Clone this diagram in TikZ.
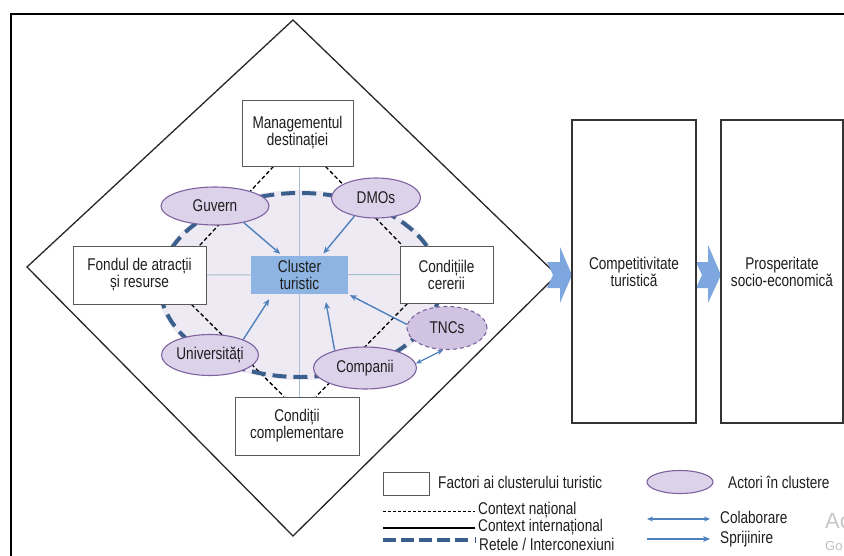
\documentclass[tikz,border=0pt]{standalone}
\usepackage{fontspec}
\setmainfont[FakeStretch=0.8]{Liberation Sans}
\newfontfamily\wmfont{Liberation Sans}
\usetikzlibrary{shapes.geometric,arrows.meta}
\definecolor{ringblue}{HTML}{3A5F8C}
\definecolor{arrblue}{HTML}{4F81BD}
\definecolor{actfill}{HTML}{DCD3EA}
\definecolor{actdraw}{HTML}{7E62A0}
\definecolor{tncfill}{HTML}{D0C4E2}
\definecolor{lav}{HTML}{EDEAF3}
\definecolor{clufill}{HTML}{8DB4E2}
\definecolor{crossc}{HTML}{A9BDD4}
\definecolor{bigarr}{HTML}{7FA7DF}
\definecolor{txt}{HTML}{1E1E1E}
\pgfdeclarelayer{bgg}
\pgfdeclarelayer{bg}
\pgfsetlayers{bgg,bg,main}
\begin{document}
\begin{tikzpicture}[x=1pt,y=-1pt,
  every node/.style={font=\fontsize{17}{17}\selectfont, text=txt},
  factor/.style={draw=black!65, line width=0.9pt, fill=white, align=center, inner sep=0pt},
  actor/.style={ellipse, draw=actdraw, line width=1.1pt, fill=actfill, inner sep=0pt},
  sprij/.style={draw=arrblue, line width=1.4pt, -{Stealth[length=7pt,width=6pt]}},
  colab/.style={draw=arrblue, line width=1.2pt, {Stealth[length=6pt,width=5pt]}-{Stealth[length=6pt,width=5pt]}},
  natl/.style={draw=black, line width=1.3pt, dash pattern=on 4pt off 2.5pt},
  intl/.style={draw=black, line width=1.3pt},
  retele/.style={draw=ringblue, line width=4pt, dash pattern=on 14pt off 7pt},
  crossl/.style={draw=crossc, line width=1pt},
  bigbox/.style={draw=black!80, line width=1.5pt, fill=white, align=center, inner sep=0pt},
  chev/.style={fill=bigarr, draw=none},
  lgtext/.style={anchor=west, inner sep=0pt}
]
\useasboundingbox (0,0) rectangle (844,555);
\begin{scope}
\clip (0,0) rectangle (844,555);
\draw[line width=2.5pt, line join=miter] (11,575) -- (11,14) -- (870,14);
\end{scope}

% diamond
\draw[line width=1.3pt, draw=black!85, line join=miter] (293,20) -- (557,275) -- (293,536) -- (27,267) -- cycle;

% big arrows
\fill[chev] (547,262) -- (560,262) -- (560,247) -- (572,275) -- (560,303) -- (560,288) -- (547,288) -- (553,275) -- cycle;
\fill[chev] (696,262) -- (708,262) -- (708,245) -- (721,275) -- (708,303) -- (708,288) -- (696,288) -- (702,275) -- cycle;

% factor boxes
\node[factor, minimum width=111pt, minimum height=66pt] (mgmt) at (297.5,133) {Managementul\\destinației};
\node[factor, minimum width=133pt, minimum height=58pt] (fon) at (139.5,275) {Fondul de atracții\\și resurse};
\node[factor, minimum width=93pt, minimum height=57pt] (con) at (446.5,274.5) {Condițiile\\cererii};
\node[factor, minimum width=124pt, minimum height=58pt] (cc) at (297,426) {Condiții\\complementare};
\node[fill=clufill, minimum width=97pt, minimum height=38pt, align=center, inner sep=0pt] (clu) at (299.5,275) {Cluster\\turistic};

% actors
\node[actor, minimum width=108pt, minimum height=38pt] (guv) at (215,206) {Guvern};
\node[actor, minimum width=89pt, minimum height=40pt] (dmo) at (376,198) {DMOs};
\node[actor, minimum width=97pt, minimum height=41pt] (uni) at (210,355) {Universități};
\node[actor, minimum width=103pt, minimum height=42pt] (comp) at (365,368) {Companii};
\node[actor, fill=tncfill, dash pattern=on 4pt off 3pt, minimum width=80pt, minimum height=43pt] (tnc) at (447,328) {TNCs};

% right boxes
\node[bigbox, minimum width=124pt, minimum height=303pt] (compet) at (634,271.5) {Competitivitate\\turistică};
\node[bigbox, minimum width=122pt, minimum height=303pt] (pros) at (782,271.5) {Prosperitate\\socio-economică};

% background layers
\begin{pgfonlayer}{bgg}
\fill[lav] (300,285) ellipse [x radius=143pt, y radius=95pt];
\draw[crossl] (clu |- mgmt.south) -- (clu |- cc.north);
\draw[crossl] (fon.east) -- (con.west);
\draw[natl] ([xshift=-24pt]mgmt.south) -- ([xshift=60pt]fon.north);
\draw[natl] ([xshift=28pt]mgmt.south) -- ([xshift=-44pt]con.north);
\draw[natl] ([xshift=52pt]fon.south) -- ([xshift=-13pt]cc.north);
\draw[natl] ([xshift=-39pt]con.south) -- ([xshift=19pt]cc.north);
\end{pgfonlayer}
\begin{pgfonlayer}{bg}
\draw[retele] (300,285) ellipse [x radius=140pt, y radius=92pt];
\end{pgfonlayer}

% support arrows
\draw[sprij, shorten >=3pt] (guv.-30) -- ([xshift=-17pt]clu.north);
\draw[sprij, shorten >=3pt] (dmo.-140) -- ([xshift=22pt]clu.north);
\draw[sprij, shorten >=6pt] (uni.25) -- ([xshift=-27pt]clu.south);
\draw[sprij, shorten >=8pt] (comp.150) -- ([xshift=25pt]clu.south);
\draw[sprij, shorten >=2pt] (tnc.175) -- (clu.south east);
\draw[colab] (tnc.-100) -- (comp.5);

% legend
\node[factor, minimum width=46pt, minimum height=23pt] (lgbox) at (406,483.5) {};
\node[lgtext] (lgt1) at (438,482) {Factori ai clusterului turistic};
\coordinate (l1a) at (383,511); \coordinate (l1b) at (475,511);
\draw[natl, line width=1pt, dash pattern=on 3pt off 2pt] (l1a) -- (l1b);
\node[lgtext] (lgt2) at (478,510) {Context național};
\coordinate (l2a) at (383,528); \coordinate (l2b) at (475,528);
\draw[intl] (l2a) -- (l2b);
\node[lgtext] (lgt3) at (478,527) {Context internațional};
\coordinate (l3a) at (383,540); \coordinate (l3b) at (472,540);
\draw[retele, dash pattern=on 13pt off 5pt] (l3a) -- (l3b);
\coordinate (l3c) at (475,537); \coordinate (l3d) at (475,543);
\draw[ringblue, line width=1pt] (l3c) -- (l3d);
\node[lgtext] (lgt4) at (479,544) {Retele / Interconexiuni};

\node[actor, minimum width=66pt, minimum height=23pt] (lgact) at (680,482) {};
\node[lgtext] (lgt5) at (728,482) {Actori în clustere};
\coordinate (l4a) at (647,519); \coordinate (l4b) at (710,519);
\draw[colab] (l4a) -- (l4b);
\node[lgtext] (lgt6) at (720,517) {Colaborare};
\coordinate (l5a) at (647,539); \coordinate (l5b) at (710,539);
\draw[sprij, line width=1.2pt] (l5a) -- (l5b);
\node[lgtext] (lgt7) at (720,539) {Sprijinire};

\node[lgtext, text=black!22, font=\wmfont\fontsize{22}{22}\selectfont] (wm1) at (825,521) {Ac};
\node[lgtext, text=black!25, font=\wmfont\fontsize{13}{13}\selectfont] (wm2) at (825,546) {Go};
\end{tikzpicture}
\end{document}
